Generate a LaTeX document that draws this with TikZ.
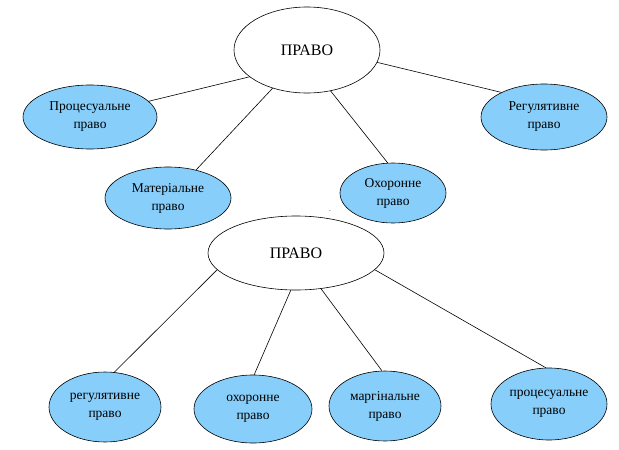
\documentclass[tikz,border=0pt]{standalone}
\usepackage{fontspec}
\setmainfont{Liberation Serif}
\usetikzlibrary{shapes.geometric}
\definecolor{lawblue}{RGB}{135,206,250}
\begin{document}
\begin{tikzpicture}[x=1pt,y=-1pt,semithick,
                    top/.style={ellipse,draw,fill=white,inner sep=0pt,font=\fontsize{16}{18}\selectfont},
                    branch/.style={ellipse,draw,fill=lawblue,inner sep=0pt,align=center,font=\fontsize{13.5}{18}\selectfont}]
\useasboundingbox (0,0) rectangle (619,450);
\node[top,minimum width=146pt,minimum height=86pt] (law1) at (307,50) {ПРАВО};
\node[branch,minimum width=134pt,minimum height=64pt] (proc1) at (90,117) {Процесуальне\\право};
\node[branch,minimum width=126pt,minimum height=66pt] (reg1) at (544,117) {Регулятивне\\право};
\node[branch,minimum width=126pt,minimum height=62pt] (mat1) at (168,198) {Матеріальне\\право};
\node[branch,minimum width=106pt,minimum height=60pt] (okh1) at (393,193) {Охоронне\\право};
\node (dash) at (330,212) {\tiny -};
\node[top,minimum width=176pt,minimum height=74pt] (law2) at (296,253) {ПРАВО};
\node[branch,minimum width=112pt,minimum height=70pt] (reg2) at (105,407) {регулятивне\\право};
\node[branch,minimum width=118pt,minimum height=68pt] (okh2) at (253,409) {охоронне\\право};
\node[branch,minimum width=112pt,minimum height=70pt] (marg2) at (385,406) {маргінальне\\право};
\node[branch,minimum width=116pt,minimum height=72pt] (proc2) at (549,404) {процесуальне\\право};
\draw (law1.205) -- (proc1.15);
\draw (law1.350) -- (reg1.150);
\draw (law1.228) -- (mat1.45);
\draw (law1.300) -- (okh1.100);
\draw (law2.192) -- (reg2.75);
\draw (law2.262) -- (okh2.88);
\draw (law2.305) -- (marg2.95);
\draw (law2.348) -- (proc2.95);
\end{tikzpicture}
\end{document}
